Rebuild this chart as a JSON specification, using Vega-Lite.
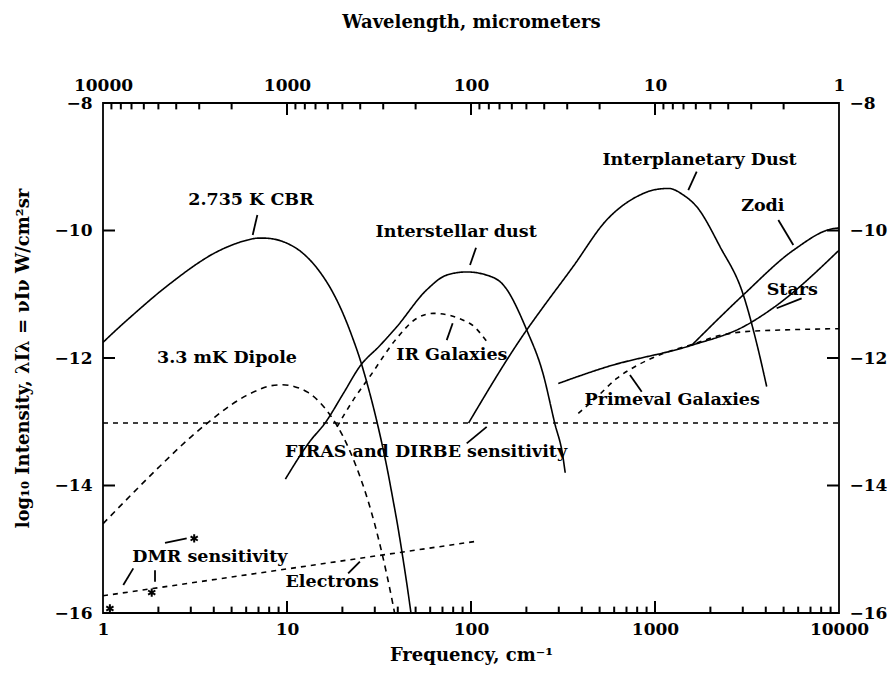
{
  "$schema": "https://vega.github.io/schema/vega-lite/v6.json",
  "width": 736,
  "height": 510,
  "autosize": {"type": "none"},
  "padding": {"left": 103, "top": 103, "right": 57, "bottom": 63},
  "background": "white",
  "config": {
    "view": {"stroke": "black", "strokeWidth": 1.8},
    "axis": {
      "labelFont": "DejaVu Serif", "labelFontWeight": "bold", "labelFontSize": 17, "labelColor": "black",
      "titleFont": "DejaVu Serif", "titleFontWeight": "bold", "titleFontSize": 18, "titleColor": "black",
      "ticks": false, "domain": false, "grid": false,
      "labelFlush": false, "labelOverlap": false
    },
    "text": {"font": "DejaVu Serif", "fontWeight": "bold", "fontSize": 17.5}
  },
  "datasets": {
    "curves": [
      {"series": "CBR", "nu": 1, "logI": -11.755}, {"series": "CBR", "nu": 1.2, "logI": -11.54}, {"series": "CBR", "nu": 1.5, "logI": -11.29},
      {"series": "CBR", "nu": 2, "logI": -10.98}, {"series": "CBR", "nu": 2.5, "logI": -10.76}, {"series": "CBR", "nu": 3, "logI": -10.59},
      {"series": "CBR", "nu": 4, "logI": -10.36}, {"series": "CBR", "nu": 5, "logI": -10.23}, {"series": "CBR", "nu": 6, "logI": -10.155},
      {"series": "CBR", "nu": 7, "logI": -10.12}, {"series": "CBR", "nu": 7.5, "logI": -10.12}, {"series": "CBR", "nu": 8, "logI": -10.124},
      {"series": "CBR", "nu": 10, "logI": -10.2}, {"series": "CBR", "nu": 12, "logI": -10.34}, {"series": "CBR", "nu": 15, "logI": -10.64},
      {"series": "CBR", "nu": 17.5, "logI": -10.94}, {"series": "CBR", "nu": 20, "logI": -11.28}, {"series": "CBR", "nu": 22.5, "logI": -11.65},
      {"series": "CBR", "nu": 25, "logI": -12.03}, {"series": "CBR", "nu": 27.5, "logI": -12.44}, {"series": "CBR", "nu": 30, "logI": -12.86},
      {"series": "CBR", "nu": 32.5, "logI": -13.29}, {"series": "CBR", "nu": 35, "logI": -13.73}, {"series": "CBR", "nu": 37.5, "logI": -14.19},
      {"series": "CBR", "nu": 40, "logI": -14.64}, {"series": "CBR", "nu": 42.5, "logI": -15.11}, {"series": "CBR", "nu": 45, "logI": -15.58},
      {"series": "CBR", "nu": 48, "logI": -16.16},
      {"series": "Dipole", "nu": 1, "logI": -14.6}, {"series": "Dipole", "nu": 1.5, "logI": -14.08}, {"series": "Dipole", "nu": 2, "logI": -13.72},
      {"series": "Dipole", "nu": 3, "logI": -13.24}, {"series": "Dipole", "nu": 4, "logI": -12.94}, {"series": "Dipole", "nu": 5, "logI": -12.73},
      {"series": "Dipole", "nu": 6, "logI": -12.59}, {"series": "Dipole", "nu": 7, "logI": -12.5}, {"series": "Dipole", "nu": 8, "logI": -12.44},
      {"series": "Dipole", "nu": 9.4, "logI": -12.42}, {"series": "Dipole", "nu": 11, "logI": -12.45}, {"series": "Dipole", "nu": 13, "logI": -12.54},
      {"series": "Dipole", "nu": 15, "logI": -12.69}, {"series": "Dipole", "nu": 17.5, "logI": -12.93}, {"series": "Dipole", "nu": 20, "logI": -13.21},
      {"series": "Dipole", "nu": 22.5, "logI": -13.53}, {"series": "Dipole", "nu": 25, "logI": -13.87}, {"series": "Dipole", "nu": 27.5, "logI": -14.23},
      {"series": "Dipole", "nu": 30, "logI": -14.61}, {"series": "Dipole", "nu": 32.5, "logI": -15.01}, {"series": "Dipole", "nu": 35, "logI": -15.42},
      {"series": "Dipole", "nu": 37.5, "logI": -15.84}, {"series": "Dipole", "nu": 40, "logI": -16.27},
      {"series": "Interstellar dust", "nu": 9.8, "logI": -13.9}, {"series": "Interstellar dust", "nu": 13.3, "logI": -13.31},
      {"series": "Interstellar dust", "nu": 16.1, "logI": -13.02}, {"series": "Interstellar dust", "nu": 20.3, "logI": -12.55},
      {"series": "Interstellar dust", "nu": 24.9, "logI": -12.13}, {"series": "Interstellar dust", "nu": 32.1, "logI": -11.8},
      {"series": "Interstellar dust", "nu": 39.5, "logI": -11.51}, {"series": "Interstellar dust", "nu": 57.5, "logI": -10.93},
      {"series": "Interstellar dust", "nu": 73.7, "logI": -10.7}, {"series": "Interstellar dust", "nu": 94.8, "logI": -10.65},
      {"series": "Interstellar dust", "nu": 121.7, "logI": -10.7}, {"series": "Interstellar dust", "nu": 150, "logI": -10.855},
      {"series": "Interstellar dust", "nu": 200.8, "logI": -11.56}, {"series": "Interstellar dust", "nu": 246, "logI": -12.24},
      {"series": "Interstellar dust", "nu": 285, "logI": -13.02}, {"series": "Interstellar dust", "nu": 316, "logI": -13.55},
      {"series": "Interstellar dust", "nu": 325, "logI": -13.8},
      {"series": "Interplanetary dust", "nu": 97, "logI": -13.02}, {"series": "Interplanetary dust", "nu": 200.8, "logI": -11.56},
      {"series": "Interplanetary dust", "nu": 237, "logI": -11.27}, {"series": "Interplanetary dust", "nu": 358, "logI": -10.57},
      {"series": "Interplanetary dust", "nu": 546, "logI": -9.835}, {"series": "Interplanetary dust", "nu": 829, "logI": -9.443},
      {"series": "Interplanetary dust", "nu": 979, "logI": -9.365}, {"series": "Interplanetary dust", "nu": 1185, "logI": -9.34},
      {"series": "Interplanetary dust", "nu": 1425, "logI": -9.443}, {"series": "Interplanetary dust", "nu": 1685, "logI": -9.627},
      {"series": "Interplanetary dust", "nu": 2256, "logI": -10.254}, {"series": "Interplanetary dust", "nu": 3020, "logI": -11.01},
      {"series": "Interplanetary dust", "nu": 3570, "logI": -11.77}, {"series": "Interplanetary dust", "nu": 4047, "logI": -12.45},
      {"series": "Zodi", "nu": 1583, "logI": -11.8}, {"series": "Zodi", "nu": 3020, "logI": -11.01}, {"series": "Zodi", "nu": 5650, "logI": -10.31},
      {"series": "Zodi", "nu": 9300, "logI": -9.97}, {"series": "Zodi", "nu": 10000, "logI": -9.96},
      {"series": "Stars", "nu": 298, "logI": -12.4}, {"series": "Stars", "nu": 546, "logI": -12.14}, {"series": "Stars", "nu": 1583, "logI": -11.8},
      {"series": "Stars", "nu": 3020, "logI": -11.51}, {"series": "Stars", "nu": 4360, "logI": -11.22}, {"series": "Stars", "nu": 10000, "logI": -10.31},
      {"series": "IR galaxies", "nu": 18.7, "logI": -13.08}, {"series": "IR galaxies", "nu": 22.9, "logI": -12.66}, {"series": "IR galaxies", "nu": 28.2, "logI": -12.29},
      {"series": "IR galaxies", "nu": 39.5, "logI": -11.69}, {"series": "IR galaxies", "nu": 50.6, "logI": -11.38}, {"series": "IR galaxies", "nu": 62.4, "logI": -11.3},
      {"series": "IR galaxies", "nu": 98.7, "logI": -11.46}, {"series": "IR galaxies", "nu": 121.7, "logI": -11.74},
      {"series": "Primeval galaxies", "nu": 383, "logI": -12.87}, {"series": "Primeval galaxies", "nu": 480, "logI": -12.62},
      {"series": "Primeval galaxies", "nu": 620, "logI": -12.32}, {"series": "Primeval galaxies", "nu": 796, "logI": -12.12},
      {"series": "Primeval galaxies", "nu": 1107, "logI": -11.93}, {"series": "Primeval galaxies", "nu": 1583, "logI": -11.79},
      {"series": "Primeval galaxies", "nu": 2300, "logI": -11.64}, {"series": "Primeval galaxies", "nu": 3000, "logI": -11.59},
      {"series": "Primeval galaxies", "nu": 5000, "logI": -11.56}, {"series": "Primeval galaxies", "nu": 10000, "logI": -11.54},
      {"series": "FIRAS and DIRBE", "nu": 1, "logI": -13.02}, {"series": "FIRAS and DIRBE", "nu": 10000, "logI": -13.02},
      {"series": "Electrons", "nu": 1, "logI": -15.73}, {"series": "Electrons", "nu": 110, "logI": -14.87}
    ],
    "labels": [
      {"text": "2.735 K CBR", "nu": 6.37, "logI": -9.52},
      {"text": "3.3 mK Dipole", "nu": 4.72, "logI": -12.0},
      {"text": "Interstellar dust", "nu": 83, "logI": -10.02},
      {"text": "Interplanetary Dust", "nu": 1745, "logI": -8.89},
      {"text": "Zodi", "nu": 3854, "logI": -9.62},
      {"text": "Stars", "nu": 5570, "logI": -10.93},
      {"text": "IR Galaxies", "nu": 78.7, "logI": -11.95},
      {"text": "Primeval Galaxies", "nu": 1240, "logI": -12.66},
      {"text": "FIRAS and DIRBE sensitivity", "nu": 57, "logI": -13.47},
      {"text": "DMR sensitivity", "nu": 3.81, "logI": -15.12},
      {"text": "Electrons", "nu": 17.6, "logI": -15.51}
    ],
    "leaders": [
      {"nu": 6.51, "logI": -10.07, "nu2": 6.9, "logI2": -9.757},
      {"nu": 98.8, "logI": -10.54, "nu2": 106.5, "logI2": -10.27},
      {"nu": 1517, "logI": -9.365, "nu2": 1685, "logI2": -9.078},
      {"nu": 4680, "logI": -9.835, "nu2": 5645, "logI2": -10.227},
      {"nu": 4584, "logI": -11.22, "nu2": 6267, "logI2": -11.064},
      {"nu": 73.8, "logI": -11.72, "nu2": 79.5, "logI2": -11.456},
      {"nu": 731, "logI": -12.267, "nu2": 847, "logI2": -12.53},
      {"nu": 94.8, "logI": -13.34, "nu2": 121.7, "logI2": -13.08},
      {"nu": 1.289, "logI": -15.56, "nu2": 1.461, "logI2": -15.3},
      {"nu": 1.917, "logI": -15.51, "nu2": 1.917, "logI2": -15.33},
      {"nu": 2.173, "logI": -14.9, "nu2": 2.85, "logI2": -14.83},
      {"nu": 21.5, "logI": -15.38, "nu2": 24.9, "logI2": -15.195}
    ],
    "dmr": [
      {"nu": 1.09, "logI": -15.93},
      {"nu": 1.84, "logI": -15.68},
      {"nu": 3.13, "logI": -14.83}
    ],
    "freqTicks": [
      {"nu": 10, "logI": -16, "nu2": 10, "logI2": -15.81}, {"nu": 100, "logI": -16, "nu2": 100, "logI2": -15.81}, {"nu": 1000, "logI": -16, "nu2": 1000, "logI2": -15.81},
      {"nu": 10, "logI": -8, "nu2": 10, "logI2": -8.19}, {"nu": 100, "logI": -8, "nu2": 100, "logI2": -8.19}, {"nu": 1000, "logI": -8, "nu2": 1000, "logI2": -8.19},
      {"nu": 2, "logI": -16, "nu2": 2, "logI2": -15.9}, {"nu": 3, "logI": -16, "nu2": 3, "logI2": -15.9}, {"nu": 4, "logI": -16, "nu2": 4, "logI2": -15.9},
      {"nu": 5, "logI": -16, "nu2": 5, "logI2": -15.9}, {"nu": 6, "logI": -16, "nu2": 6, "logI2": -15.9}, {"nu": 7, "logI": -16, "nu2": 7, "logI2": -15.9},
      {"nu": 8, "logI": -16, "nu2": 8, "logI2": -15.9}, {"nu": 9, "logI": -16, "nu2": 9, "logI2": -15.9},
      {"nu": 20, "logI": -16, "nu2": 20, "logI2": -15.9}, {"nu": 30, "logI": -16, "nu2": 30, "logI2": -15.9}, {"nu": 40, "logI": -16, "nu2": 40, "logI2": -15.9},
      {"nu": 50, "logI": -16, "nu2": 50, "logI2": -15.9}, {"nu": 60, "logI": -16, "nu2": 60, "logI2": -15.9}, {"nu": 70, "logI": -16, "nu2": 70, "logI2": -15.9},
      {"nu": 80, "logI": -16, "nu2": 80, "logI2": -15.9}, {"nu": 90, "logI": -16, "nu2": 90, "logI2": -15.9},
      {"nu": 200, "logI": -16, "nu2": 200, "logI2": -15.9}, {"nu": 300, "logI": -16, "nu2": 300, "logI2": -15.9}, {"nu": 400, "logI": -16, "nu2": 400, "logI2": -15.9},
      {"nu": 500, "logI": -16, "nu2": 500, "logI2": -15.9}, {"nu": 600, "logI": -16, "nu2": 600, "logI2": -15.9}, {"nu": 700, "logI": -16, "nu2": 700, "logI2": -15.9},
      {"nu": 800, "logI": -16, "nu2": 800, "logI2": -15.9}, {"nu": 900, "logI": -16, "nu2": 900, "logI2": -15.9},
      {"nu": 2000, "logI": -16, "nu2": 2000, "logI2": -15.9}, {"nu": 3000, "logI": -16, "nu2": 3000, "logI2": -15.9}, {"nu": 4000, "logI": -16, "nu2": 4000, "logI2": -15.9},
      {"nu": 5000, "logI": -16, "nu2": 5000, "logI2": -15.9}, {"nu": 6000, "logI": -16, "nu2": 6000, "logI2": -15.9}, {"nu": 7000, "logI": -16, "nu2": 7000, "logI2": -15.9},
      {"nu": 8000, "logI": -16, "nu2": 8000, "logI2": -15.9}, {"nu": 9000, "logI": -16, "nu2": 9000, "logI2": -15.9},
      {"nu": 1, "logI": -14, "nu2": 1.162, "logI2": -14}, {"nu": 1, "logI": -12, "nu2": 1.162, "logI2": -12}, {"nu": 1, "logI": -10, "nu2": 1.162, "logI2": -10},
      {"nu": 8607, "logI": -14, "nu2": 10000, "logI2": -14}, {"nu": 8607, "logI": -12, "nu2": 10000, "logI2": -12}, {"nu": 8607, "logI": -10, "nu2": 10000, "logI2": -10}
    ],
    "wlTicks": [
      {"wl": 2, "v": -8, "v2": -8.1}, {"wl": 3, "v": -8, "v2": -8.1}, {"wl": 4, "v": -8, "v2": -8.1}, {"wl": 5, "v": -8, "v2": -8.1},
      {"wl": 6, "v": -8, "v2": -8.1}, {"wl": 7, "v": -8, "v2": -8.1}, {"wl": 8, "v": -8, "v2": -8.1}, {"wl": 9, "v": -8, "v2": -8.1},
      {"wl": 20, "v": -8, "v2": -8.1}, {"wl": 30, "v": -8, "v2": -8.1}, {"wl": 40, "v": -8, "v2": -8.1}, {"wl": 50, "v": -8, "v2": -8.1},
      {"wl": 60, "v": -8, "v2": -8.1}, {"wl": 70, "v": -8, "v2": -8.1}, {"wl": 80, "v": -8, "v2": -8.1}, {"wl": 90, "v": -8, "v2": -8.1},
      {"wl": 200, "v": -8, "v2": -8.1}, {"wl": 300, "v": -8, "v2": -8.1}, {"wl": 400, "v": -8, "v2": -8.1}, {"wl": 500, "v": -8, "v2": -8.1},
      {"wl": 600, "v": -8, "v2": -8.1}, {"wl": 700, "v": -8, "v2": -8.1}, {"wl": 800, "v": -8, "v2": -8.1}, {"wl": 900, "v": -8, "v2": -8.1},
      {"wl": 2000, "v": -8, "v2": -8.1}, {"wl": 3000, "v": -8, "v2": -8.1}, {"wl": 4000, "v": -8, "v2": -8.1}, {"wl": 5000, "v": -8, "v2": -8.1},
      {"wl": 6000, "v": -8, "v2": -8.1}, {"wl": 7000, "v": -8, "v2": -8.1}, {"wl": 8000, "v": -8, "v2": -8.1}, {"wl": 9000, "v": -8, "v2": -8.1}
    ]
  },
  "layer": [
    {
      "encoding": {
        "x": {
          "field": "nu", "type": "quantitative",
          "scale": {"type": "log", "domain": [1, 10000]},
          "axis": {
            "orient": "bottom",
            "values": [1, 10, 100, 1000, 10000],
            "format": "d",
            "labelPadding": 8,
            "title": "Frequency, cm⁻¹",
            "titleX": 368, "titleY": 42, "titleBaseline": "middle", "titleAlign": "center"
          }
        },
        "y": {
          "field": "logI", "type": "quantitative",
          "scale": {"domain": [-16, -8], "nice": false, "zero": false},
          "axis": {
            "orient": "left",
            "values": [-16, -14, -12, -10, -8],
            "format": "d",
            "labelPadding": 11,
            "title": "log₁₀ Intensity, λIλ = νIν W/cm²sr",
            "titleX": -80, "titleY": 255, "titleBaseline": "middle", "titleAlign": "center", "titleAngle": -90
          }
        }
      },
      "layer": [
        {
          "data": {"name": "curves"},
          "mark": {"type": "line", "clip": true, "strokeWidth": 1.6, "color": "black", "interpolate": "monotone"},
          "encoding": {
            "detail": {"field": "series"},
            "strokeDash": {
              "field": "series", "type": "nominal", "legend": null,
              "scale": {
                "domain": ["CBR", "Dipole", "Interstellar dust", "Interplanetary dust", "Zodi", "Stars", "IR galaxies", "Primeval galaxies", "FIRAS and DIRBE", "Electrons"],
                "range": [[1, 0], [6, 5], [1, 0], [1, 0], [1, 0], [1, 0], [5, 5], [5, 5], [5, 5], [5, 5]]
              }
            }
          }
        },
        {
          "data": {"name": "leaders"},
          "mark": {"type": "rule", "strokeWidth": 1.8, "color": "black"},
          "encoding": {
            "x2": {"field": "nu2"},
            "y2": {"field": "logI2"}
          }
        },
        {
          "data": {"name": "freqTicks"},
          "mark": {"type": "rule", "strokeWidth": 2, "color": "black"},
          "encoding": {
            "x2": {"field": "nu2"},
            "y2": {"field": "logI2"}
          }
        },
        {
          "data": {"name": "dmr"},
          "mark": {"type": "point", "shape": "M0,-1L0,1M-0.866,-0.5L0.866,0.5M-0.866,0.5L0.866,-0.5", "size": 70, "strokeWidth": 2, "color": "black", "filled": false, "opacity": 1}
        },
        {
          "data": {"name": "labels"},
          "mark": {"type": "text", "align": "center", "baseline": "middle", "color": "black"},
          "encoding": {"text": {"field": "text"}}
        }
      ]
    },
    {
      "data": {"name": "wlTicks"},
      "mark": {"type": "rule", "strokeWidth": 2, "color": "black"},
      "encoding": {
        "x": {
          "field": "wl", "type": "quantitative",
          "scale": {"type": "log", "domain": [1, 10000], "reverse": true},
          "axis": {
            "orient": "top",
            "values": [1, 10, 100, 1000, 10000],
            "format": "d",
            "labelPadding": 9,
            "title": "Wavelength, micrometers",
            "titleX": 368, "titleY": -81, "titleBaseline": "middle", "titleAlign": "center"
          }
        },
        "y": {
          "field": "v", "type": "quantitative",
          "scale": {"domain": [-16, -8], "nice": false, "zero": false},
          "axis": {
            "orient": "right",
            "values": [-16, -14, -12, -10, -8],
            "format": "d",
            "labelPadding": 10,
            "title": null
          }
        },
        "y2": {"field": "v2"}
      }
    }
  ],
  "resolve": {"scale": {"x": "independent", "y": "independent"}}
}
